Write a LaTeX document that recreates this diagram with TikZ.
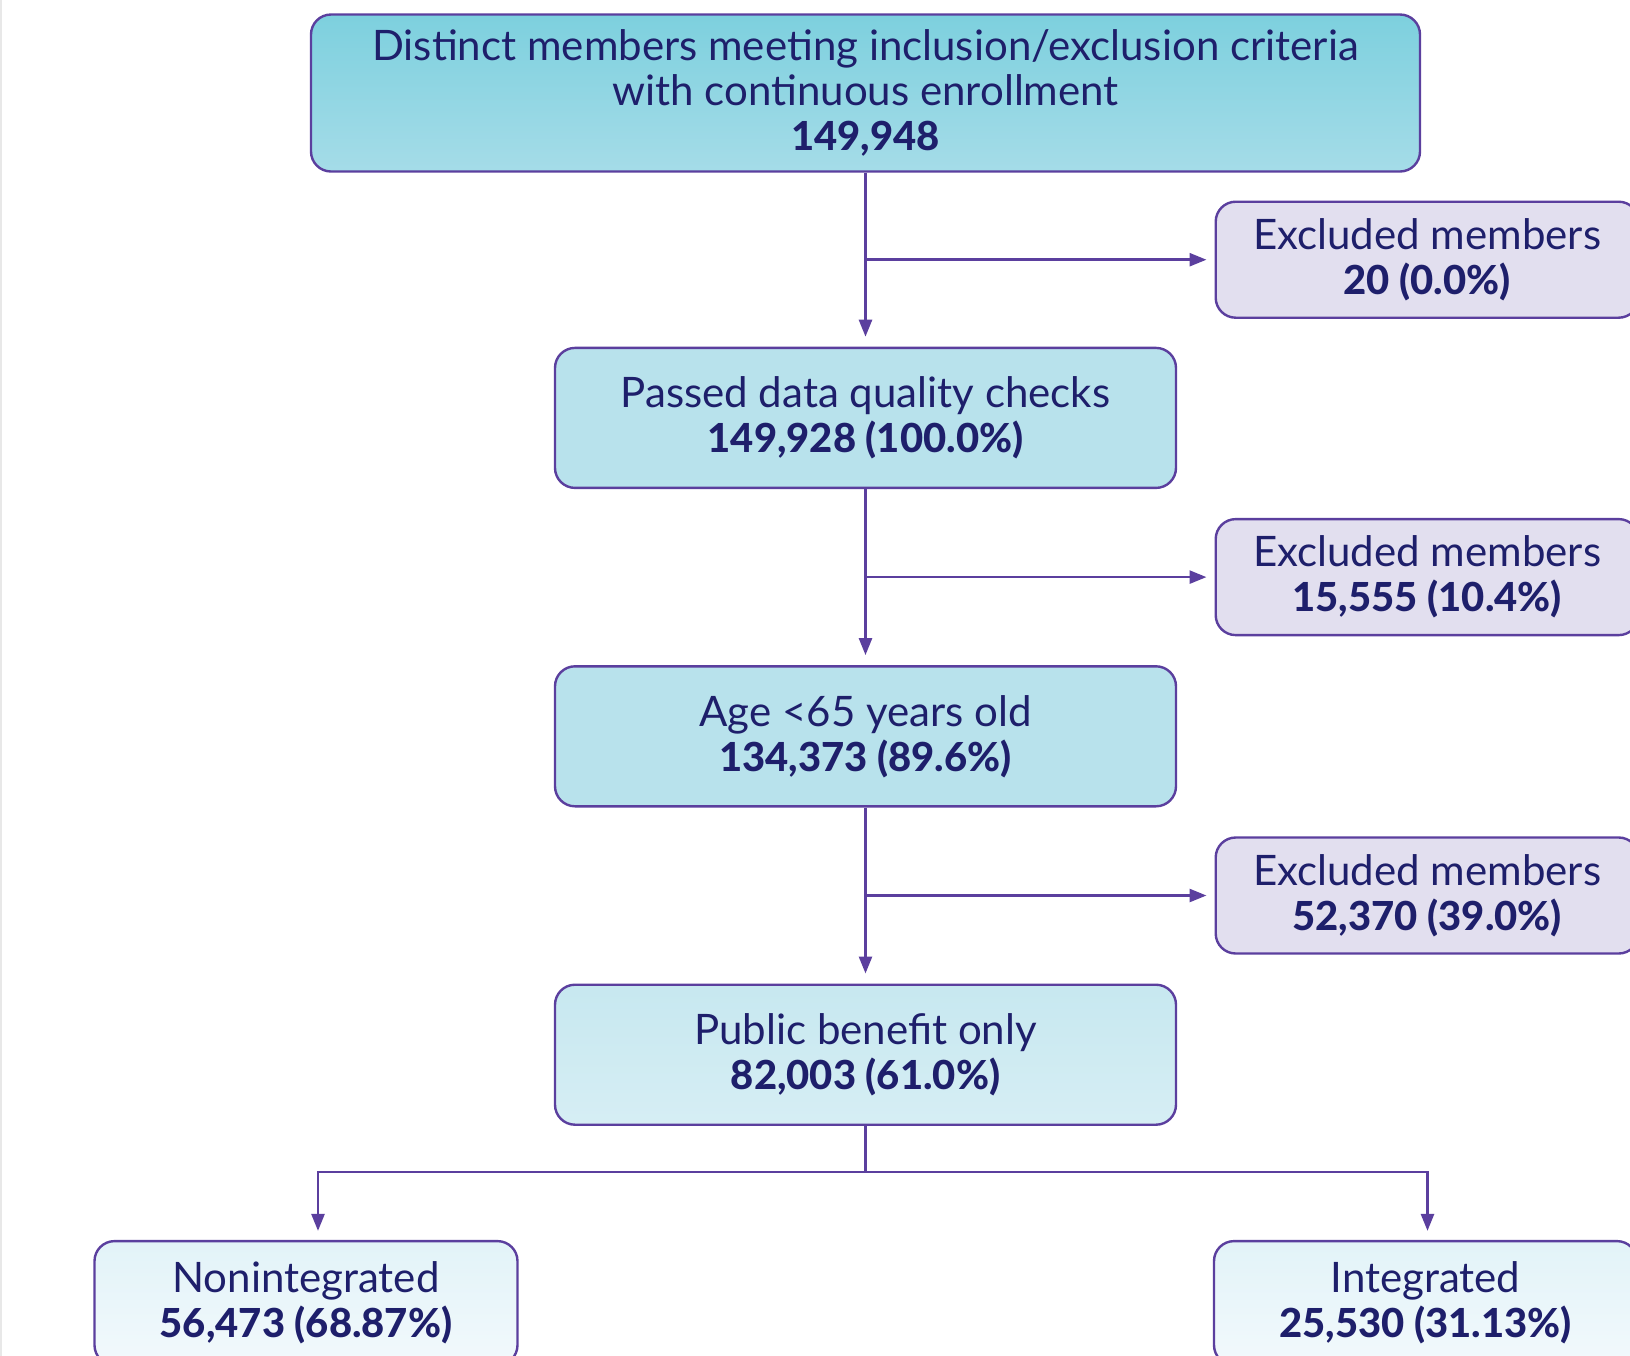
\documentclass[tikz,border=0pt]{standalone}
\usepackage{fontspec}
\setmainfont{Lato}
\newfontface\heavy{Lato Heavy}
\definecolor{frame}{RGB}{91,63,158}
\definecolor{ink}{RGB}{30,31,107}
\definecolor{tealtop}{RGB}{125,208,222}
\definecolor{tealbot}{RGB}{165,220,232}
\definecolor{tealmid}{RGB}{184,226,236}
\definecolor{paletop}{RGB}{199,232,240}
\definecolor{palebot}{RGB}{214,238,244}
\definecolor{icetop}{RGB}{226,243,248}
\definecolor{icebot}{RGB}{242,249,252}
\definecolor{lilac}{RGB}{226,223,239}
\definecolor{edgegray}{RGB}{232,232,232}
\usetikzlibrary{arrows.meta,positioning,calc}
\newcommand\cnt[1]{{\fontsize{20}{22.5}\selectfont\heavy #1}}
\tikzset{
  box/.style={draw=frame,line width=1.2pt,rounded corners=10pt,align=center,
              text=ink,inner sep=2pt,font=\fontsize{21}{22.5}\selectfont},
  stage/.style={box,fill=tealmid,minimum width=310.5pt,minimum height=70pt},
  excl/.style={box,fill=lilac,minimum width=211.5pt,minimum height=58pt},
  arm/.style={box,top color=icetop,bottom color=icebot,minimum width=211.5pt,minimum height=62pt},
  arr/.style={-{Triangle[length=8.5pt,width=6.5pt]},line width=1.3pt,draw=frame},
}

\begin{document}
\begin{tikzpicture}[node distance=88pt and 174.5pt]
    \useasboundingbox (0,0) rectangle (815pt,-678pt);
    \fill[edgegray] (0,0) rectangle (1.2pt,-678pt);
    \node[stage,top color=tealtop,bottom color=tealbot,minimum width=554.5pt,minimum height=78.5pt]
      (pool) at (432.75pt,-46.5pt) {Distinct members meeting inclusion/exclusion criteria\\
      with continuous enrollment\\\cnt{149,948}};
    \node[stage,below=87pt of pool] (quality) {Passed data quality checks\\\cnt{149,928 (100.0\%)}};
    \node[stage,below=of quality] (age) {Age <65 years old\\\cnt{134,373 (89.6\%)}};
    \node[stage,top color=paletop,bottom color=palebot,below=of age] (public)
      {Public benefit only\\\cnt{82,003 (61.0\%)}};
    \coordinate (c1) at ($(pool.south)!.5!(quality.north)$);
    \coordinate (c2) at ($(quality.south)!.5!(age.north)$);
    \coordinate (c3) at ($(age.south)!.5!(public.north)$);
    \node[excl,right=of c1] (ex1) {Excluded members\\\cnt{20 (0.0\%)}};
    \node[excl,right=of c2] (ex2) {Excluded members\\\cnt{15,555 (10.4\%)}};
    \node[excl,right=of c3] (ex3) {Excluded members\\\cnt{52,370 (39.0\%)}};
    \coordinate[below=23pt of public.south] (split);
    \node[arm,below=34pt of split,xshift=-279.75pt] (nonint) {Nonintegrated\\\cnt{56,473 (68.87\%)}};
    \node[arm,below=34pt of split,xshift=280pt] (integ) {Integrated\\\cnt{25,530 (31.13\%)}};
    \draw[arr,shorten >=5pt] (pool) -- (quality);
    \draw[arr,shorten >=5pt] (quality) -- (age);
    \draw[arr,shorten >=5pt] (age) -- (public);
    \draw[arr,shorten >=4pt] (c1) -- (ex1);
    \draw[arr,shorten >=4pt] (c2) -- (ex2);
    \draw[arr,shorten >=4pt] (c3) -- (ex3);
    \draw[arr,shorten >=4.5pt] (public.south) -- (split) -| ([xshift=6pt]nonint.north);
    \draw[arr,shorten >=4.5pt] (split) -| ([xshift=1pt]integ.north);
  \end{tikzpicture}
\end{document}
